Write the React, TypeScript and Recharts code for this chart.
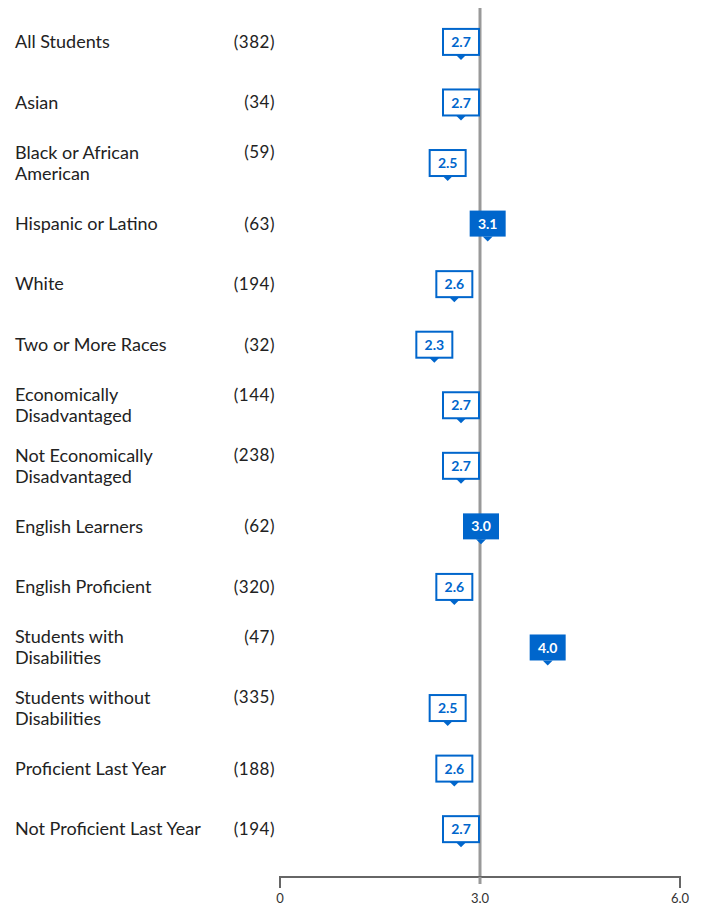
import { ScatterChart, Scatter, XAxis, YAxis, ReferenceLine } from 'recharts';

const groups = [
  'All Students',
  'Asian',
  'Black or African\nAmerican',
  'Hispanic or Latino',
  'White',
  'Two or More Races',
  'Economically\nDisadvantaged',
  'Not Economically\nDisadvantaged',
  'English Learners',
  'English Proficient',
  'Students with\nDisabilities',
  'Students without\nDisabilities',
  'Proficient Last Year',
  'Not Proficient Last Year',
];
const counts = [382, 34, 59, 63, 194, 32, 144, 238, 62, 320, 47, 335, 188, 194];
const scores = [2.7, 2.7, 2.5, 3.1, 2.6, 2.3, 2.7, 2.7, 3.0, 2.6, 4.0, 2.5, 2.6, 2.7];
const xTicks = [0, 3, 6];
const benchmark = 3.0;

const BLUE = '#0066cc';

const rows = groups.map((name, i) => ({ name, count: counts[i], score: scores[i], row: i }));

function GroupTick(props: any) {
  const { y, payload } = props;
  const r = rows[payload.value];
  if (!r) return null;
  const lines = r.name.split('\n');
  const top = lines.length > 1 ? y - 10.5 : y;
  return (
    <g>
      {lines.map((l: string, i: number) => (
        <text key={i} x={7} y={top + i * 21} dy="0.35em" fontSize={18} fill="#222">
          {l}
        </text>
      ))}
      <text x={267} y={top} dy="0.35em" textAnchor="end" fontSize={17} fill="#222" letterSpacing={0.5}>
        ({r.count})
      </text>
    </g>
  );
}

function ScoreTick(props: any) {
  const { x, y, payload } = props;
  const v = payload.value;
  return (
    <g>
      {v === benchmark ? (
        <line x1={x} x2={x} y1={y} y2={y + 7} stroke="#999" strokeWidth={3} />
      ) : (
        <line x1={x} x2={x} y1={y - 1} y2={y + 11} stroke="#666" strokeWidth={2} />
      )}
      <text x={x} y={y + 26} textAnchor="middle" fontSize={13} fill="#333">
        {v === 0 ? '0' : v.toFixed(1)}
      </text>
    </g>
  );
}

function Callout(props: any) {
  const { cx, cy, payload } = props;
  const filled = payload.score >= benchmark;
  const w = 36;
  const h = 26;
  const x0 = cx + 1;
  return (
    <g>
      <rect
        x={x0 - w / 2}
        y={cy - h / 2}
        width={w}
        height={h}
        fill={filled ? BLUE : '#fff'}
        stroke={BLUE}
        strokeWidth={filled ? 0 : 2}
      />
      <polygon
        points={`${x0 - 5},${cy + h / 2} ${x0 + 5},${cy + h / 2} ${x0},${cy + h / 2 + 5}`}
        fill={BLUE}
      />
      <text
        x={x0}
        y={cy}
        dy="0.36em"
        textAnchor="middle"
        fontSize={14}
        fontWeight={700}
        fill={filled ? '#fff' : BLUE}
      >
        {payload.score.toFixed(1)}
      </text>
    </g>
  );
}

export default function App() {
  return (
    <div style={{ fontFamily: 'Lato, sans-serif' }}>
      <style>{`html,body{overflow:hidden}`}</style>
      <ScatterChart
        width={693}
        height={896}
        data={rows}
        margin={{ top: 0, right: 21, left: 0, bottom: 0 }}
      >
        <XAxis
          dataKey="score"
          type="number"
          domain={[0, 6]}
          ticks={xTicks}
          height={27}
          tickSize={0}
          tickMargin={0}
          tickLine={false}
          axisLine={{ stroke: '#666', strokeWidth: 2 }}
          tick={<ScoreTick />}
        />
        <YAxis
          dataKey="row"
          type="number"
          domain={[-0.56, 13.79]}
          allowDataOverflow
          reversed
          ticks={rows.map(r => r.row)}
          interval={0}
          width={272}
          axisLine={false}
          tickLine={false}
          tick={<GroupTick />}
        />
        <ReferenceLine x={benchmark} stroke="#999" strokeWidth={3} />
        <Scatter data={rows} dataKey="score" shape={<Callout />} isAnimationActive={false} />
      </ScatterChart>
    </div>
  );
}
